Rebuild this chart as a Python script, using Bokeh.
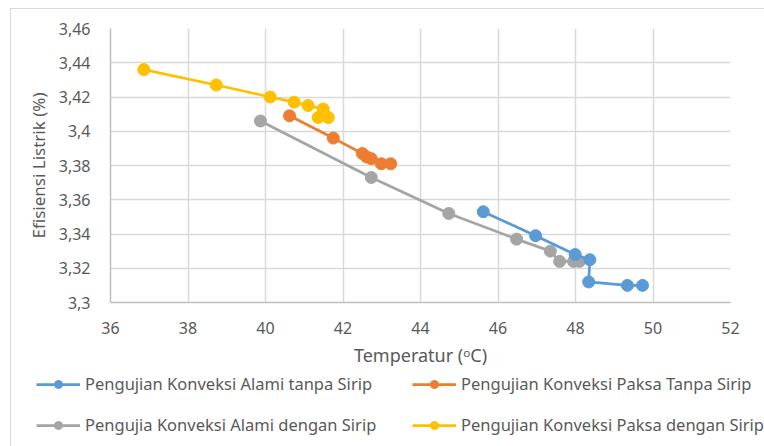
from bokeh.plotting import figure
from bokeh.layouts import column
from bokeh.models import Range1d, FixedTicker, Legend, LegendItem
from bokeh.embed import file_html
from bokeh.resources import INLINE

# Data
alami_tanpa_x = [45.62, 46.97, 47.99, 48.37, 48.34, 49.34, 49.73]
alami_tanpa_y = [3.353, 3.339, 3.328, 3.325, 3.312, 3.310, 3.310]

paksa_tanpa_x = [40.62, 41.75, 42.50, 42.61, 42.73, 42.99, 43.23]
paksa_tanpa_y = [3.409, 3.396, 3.387, 3.385, 3.384, 3.381, 3.381]

alami_dengan_x = [39.87, 42.73, 44.73, 46.48, 47.35, 47.59, 47.95, 48.10]
alami_dengan_y = [3.406, 3.373, 3.352, 3.337, 3.330, 3.324, 3.324, 3.324]

paksa_dengan_x = [36.86, 38.73, 40.12, 40.74, 41.10, 41.49, 41.36, 41.62]
paksa_dengan_y = [3.436, 3.427, 3.420, 3.417, 3.415, 3.413, 3.408, 3.408]

x_ticks = [36, 38, 40, 42, 44, 46, 48, 50, 52]
y_ticks = [3.30, 3.32, 3.34, 3.36, 3.38, 3.40, 3.42, 3.44, 3.46]
y_tick_labels = ["3,3", "3,32", "3,34", "3,36", "3,38", "3,4", "3,42", "3,44", "3,46"]

series_names = [
    "Pengujian Konveksi Alami tanpa Sirip",
    "Pengujian Konveksi Paksa Tanpa Sirip",
    "Pengujia Konveksi Alami dengan Sirip",
    "Pengujian Konveksi Paksa dengan Sirip",
]
colors = ["#5b9bd5", "#ed7d31", "#a5a5a5", "#ffc000"]

FONT = "Noto Sans"
TXT = "#595959"

p = figure(width=753, height=361, output_backend="svg", toolbar_location=None,
           x_range=Range1d(36, 52), y_range=Range1d(3.30, 3.46),
           min_border_left=99, min_border_right=34, min_border_top=19, min_border_bottom=68)
p.outline_line_color = None
p.background_fill_color = "white"
p.border_fill_color = "white"

p.xaxis.ticker = FixedTicker(ticks=x_ticks)
p.yaxis.ticker = FixedTicker(ticks=y_ticks)
p.yaxis.major_label_overrides = {t: l for t, l in zip(y_ticks, y_tick_labels)}

for ax in (p.xaxis[0], p.yaxis[0]):
    ax.major_tick_line_color = None
    ax.minor_tick_line_color = None
    ax.axis_line_color = "#bfbfbf"
    ax.axis_line_width = 1.5
    ax.major_label_text_font = FONT
    ax.major_label_text_font_size = "16px"
    ax.major_label_text_color = TXT
    ax.axis_label_text_font = FONT
    ax.axis_label_text_color = TXT
    ax.axis_label_text_font_style = "normal"

p.xaxis.axis_label_text_font_size = "18px"
p.yaxis.axis_label_text_font_size = "17px"
p.xaxis.major_label_standoff = 13
p.yaxis.major_label_standoff = 14
p.xaxis.axis_label = "Temperatur (\u1d52C)"
p.yaxis.axis_label = "Efisiensi Listrik (%)"
p.xaxis.axis_label_standoff = 6
p.yaxis.axis_label_standoff = 6

p.grid.grid_line_color = "#d9d9d9"
p.grid.grid_line_width = 1.5

data = [(alami_tanpa_x, alami_tanpa_y), (paksa_tanpa_x, paksa_tanpa_y),
        (alami_dengan_x, alami_dengan_y), (paksa_dengan_x, paksa_dengan_y)]
for i in [2, 0, 1, 3]:
    xs, ys = data[i]
    p.line(xs, ys, line_color=colors[i], line_width=2.75)
    p.scatter(xs, ys, size=12, fill_color=colors[i], line_color=colors[i])

# Legend strip below the chart
p2 = figure(width=753, height=76, output_backend="svg", toolbar_location=None,
            x_range=Range1d(0, 1), y_range=Range1d(0, 1),
            x_axis_location=None, y_axis_location=None,
            min_border_left=0, min_border_right=0, min_border_top=0, min_border_bottom=0)
p2.outline_line_color = None
p2.grid.visible = False
p2.border_fill_color = "white"
p2.background_fill_color = "white"
for fig in (p, p2):
    try:
        fig.frame_align = False
    except Exception:
        pass

nan = float("nan")
leg_renderers = []
for i in range(4):
    l = p2.line([nan], [nan], line_color=colors[i], line_width=2.75)
    s = p2.scatter([nan], [nan], size=11, fill_color=colors[i], line_color=colors[i])
    leg_renderers.append([l, s])

for col, (a, b) in enumerate([(0, 2), (1, 3)]):
    lg = Legend(items=[LegendItem(label=series_names[a], renderers=leg_renderers[a]),
                       LegendItem(label=series_names[b], renderers=leg_renderers[b])],
                orientation="vertical")
    lg.label_text_font = FONT
    lg.label_text_font_size = "16.5px"
    lg.label_text_color = TXT
    lg.glyph_width = 44
    lg.glyph_height = 20
    lg.label_height = 20
    lg.label_standoff = 5
    lg.spacing = 18
    lg.padding = 0
    lg.margin = 0
    lg.border_line_color = None
    lg.background_fill_alpha = 0
    lg.location = (25, 10) if col == 0 else (401, 10)
    p2.add_layout(lg, "center")

layout = column(p, p2, spacing=0,
                styles={"border-left": "1px solid #d9d9d9", "border-top": "1px solid #d9d9d9",
                        "margin-left": "10px", "margin-top": "8px"})

open("out.html", "w").write(file_html(layout, INLINE))
